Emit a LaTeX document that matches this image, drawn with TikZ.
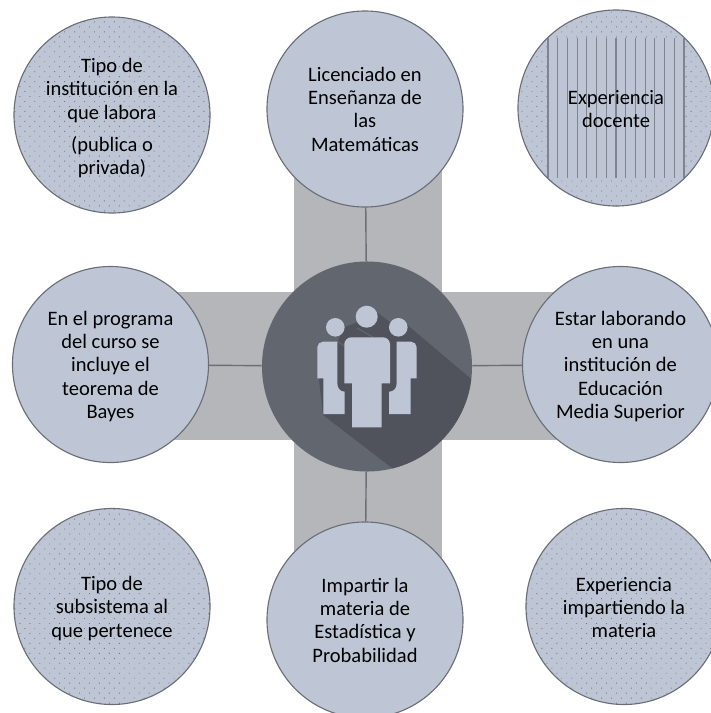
\documentclass[tikz,border=0pt]{standalone}
\usepackage{xcolor}
\usepackage{fontspec}
\setmainfont{Carlito}
\usetikzlibrary{patterns.meta, backgrounds}
\definecolor{discfill}{HTML}{BEC6D6}
\definecolor{discline}{HTML}{6A6E77}
\definecolor{barfill}{HTML}{B5B6B9}
\definecolor{hubfill}{HTML}{62666F}
\definecolor{hubshade}{HTML}{50535B}
\definecolor{dotgray}{HTML}{747986}
\definecolor{stripegray}{HTML}{7F8490}

\newcommand{\dotfield}{\fill[pattern={Dots[distance=5pt,radius=0.45pt,angle=45]}, pattern color=dotgray] (path picture bounding box.south west) rectangle (path picture bounding box.north east);}
\newcommand{\firstline}[1]{\rule{0pt}{#1}}

\begin{document}
\begin{tikzpicture}[
    x=0.025cm, y=-0.025cm,
    disc/.style={circle, draw=discline, line width=0.8pt, fill=discfill, minimum size=4.9cm, inner sep=0pt, align=center, font=\fontsize{14.6pt}{16.6pt}\selectfont},
    dotdisc/.style={disc, path picture={\dotfield}},
    spoke/.style={line width=1pt, color=discline}
]
\useasboundingbox (0,0) rectangle (711,713);
\clip (0,0) rectangle (711,713);

\node[circle, fill=hubfill, minimum size=5.25cm, inner sep=0pt] (hub) at (367,366.5) {};

\node[disc] (top) at (365,109) {Licenciado en\\Enseñanza de\\las\\Matemáticas};
\node[disc] (left) at (110.5,364.5) {\firstline{12.6pt}En el programa\\del curso se\\incluye el\\teorema de\\Bayes};
\node[disc] (right) at (620.5,364.5) {\firstline{12.6pt}Estar laborando\\en una\\institución de\\Educación\\Media Superior};
\node[disc] (bottom) at (365,620) {Impartir la\\materia de\\Estadística y\\Probabilidad};

\node[dotdisc] (tl) at (112,115) {\firstline{14.5pt}Tipo de\\institución en la\\que labora\\[6pt](publica o\\privada)};
\node[dotdisc] (bl) at (112,606.5) {\firstline{12.6pt}Tipo de\\subsistema al\\que pertenece};
\node[dotdisc] (br) at (624,606.5) {\firstline{11.5pt}Experiencia\\impartiendo la\\materia};
\node[disc, path picture={
    \dotfield
    \fill[discfill] (path picture bounding box.center) ++(-68,-70) rectangle ++(136,140);
    \foreach \i in {0,...,14}
        \draw[stripegray, line width=0.9pt] (path picture bounding box.center) ++({-68+\i*9.714},-70) -- ++(0,140);
}] (tr) at (616,108) {\firstline{11.5pt}Experiencia\\docente};

\begin{scope}[on background layer]
\fill[barfill] (294,170) rectangle (442,560);
\fill[barfill] (170,292) rectangle (565,440);
\draw[spoke] (hub) -- (top);
\draw[spoke] (hub) -- (bottom);
\draw[spoke] (hub) -- (left);
\draw[spoke] (hub) -- (right);
\end{scope}

% long shadow of the figures
\begin{scope}
\clip (hub.center) circle [radius=105];
\fill[hubshade] (375,311) -- (390,322) -- (405,323) -- (470,378) -- (520,420) -- (450,520) -- (392,468) -- (323,415) -- (319,380) -- (337,342) -- (345,327) -- (358,322) -- cycle;
\draw[hubfill, line width=0.8pt] (357,328) -- (373,337);
\draw[hubfill, line width=0.8pt] (337,341) -- (344,346);
\end{scope}

% figures
\begin{scope}[fill=discfill]
\fill (366.7,316.7) circle [radius=11];
\fill (335.3,327.3) circle [radius=9.3];
\fill (398.3,327.3) circle [radius=9.3];
\fill (344.3,383.3) [rounded corners=5pt] -- (344.3,337.3) -- (390,337.3) [sharp corners] -- (390,383.3) -- (381.7,383.3) -- (381.7,427.3) -- (352,427.3) -- (352,383.3) -- cycle;
\fill (317.3,378.3) [rounded corners=4pt] -- (317.3,341.7) [sharp corners] -- (337.3,341.7) -- (337.3,383) .. controls (337.3,388) and (340,391.7) .. (344.7,391.7) -- (344.7,414) -- (323.3,414) -- (323.3,378.3) -- cycle;
\fill (416.7,378.3) [rounded corners=4pt] -- (416.7,341.7) [sharp corners] -- (396.7,341.7) -- (396.7,383) .. controls (396.7,388) and (394,391.7) .. (389,391.7) -- (389,414) -- (410.7,414) -- (410.7,378.3) -- cycle;
\end{scope}

\end{tikzpicture}
\end{document}
